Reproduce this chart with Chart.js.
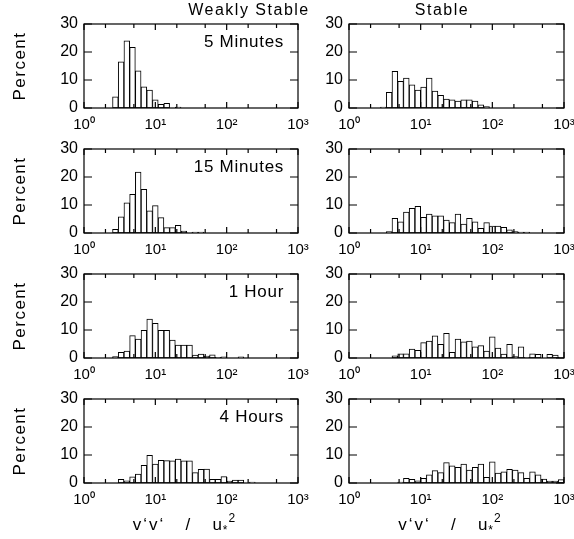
<!DOCTYPE html>
<html>
<head>
<meta charset="utf-8">
<script src="https://cdn.jsdelivr.net/npm/chart.js@4.4.1/dist/chart.umd.min.js"></script>
<style>
  html, body { margin: 0; padding: 0; background: #fff; overflow: hidden; width: 574px; height: 539px; }
  canvas { position: absolute; }
</style>
</head>
<body>
<script>
const FONT = "'Liberation Sans', Arial, sans-serif";

// histogram bin centres, as log10(v'v'/u*^2)
const leftBinLog = [0.04, 0.12, 0.20, 0.28, 0.36, 0.44, 0.52, 0.60, 0.68, 0.76, 0.84, 0.92,
  1.00, 1.08, 1.16, 1.24, 1.32, 1.40, 1.48, 1.56, 1.64, 1.72, 1.80, 1.88, 1.96, 2.04,
  2.12, 2.20, 2.28, 2.36, 2.44, 2.52, 2.60, 2.68, 2.76, 2.84, 2.92];
const rightBinLog = [0.08, 0.16, 0.24, 0.32, 0.40, 0.48, 0.56, 0.64, 0.72, 0.80, 0.88, 0.96,
  1.04, 1.12, 1.20, 1.28, 1.36, 1.44, 1.52, 1.60, 1.68, 1.76, 1.84, 1.92, 2.00, 2.08,
  2.16, 2.24, 2.32, 2.40, 2.48, 2.56, 2.64, 2.72, 2.80, 2.88, 2.96];

const xTickValues = [1, 2, 5, 10, 20, 50, 100, 200, 500, 1000];
const xTickLabels = { 1: '10⁰', 10: '10¹', 100: '10²', 1000: '10³' };
const yTickStep = 10;

const rowLabels = ['5 Minutes', '15 Minutes', '1 Hour', '4 Hours'];
const columnTitles = ['Weakly Stable', 'Stable'];
const yTitle = 'Percent';
const xTitleParts = ['v‘v‘   /   u', '*', '2'];

// percent per bin, weakly stable column (leftBinLog)
const weakly5min  = [0, 0, 0, 0, 0, 4.0, 16.5, 24.0, 21.7, 13.3, 7.6, 6.4, 2.9, 1.3, 1.7, 0, 0.3];
const weakly15min = [0, 0, 0, 0, 0, 1.3, 5.8, 10.8, 13.8, 21.8, 15.6, 7.9, 9.8, 5.5, 1.9, 1.9, 2.7,
  0.7, 0.1, 0.3, 0.3];
const weakly1h    = [0, 0, 0, 0, 0, 0.5, 2.0, 2.5, 8.0, 6.8, 9.9, 13.9, 12.4, 9.9, 9.9, 6.4, 4.6,
  4.6, 4.6, 1.0, 1.4, 0.7, 1.1, 0.2, 0.4, 0, 0, 0.4];
const weakly4h    = [0, 0, 0, 0, 0, 0, 1.3, 0.8, 2.2, 3.2, 6.3, 9.9, 6.8, 8.1, 8.0, 7.9, 8.5, 7.9,
  7.9, 3.7, 4.9, 5.0, 1.3, 1.3, 2.3, 0.7, 1.0, 1.0, 0, 0.3];

// percent per bin, stable column (rightBinLog)
const stable5min  = [0, 0, 0, 0, 0, 0.3, 5.6, 13.1, 9.5, 10.7, 8.3, 6.4, 7.5, 10.7, 6.0, 4.5, 3.2,
  2.9, 2.5, 2.9, 2.9, 2.5, 1.1, 0.5];
const stable15min = [0, 0, 0, 0, 0, 0, 0.5, 5.2, 4.0, 7.5, 8.8, 9.5, 5.6, 6.8, 6.1, 6.1, 4.6, 3.7,
  6.8, 3.2, 5.2, 4.0, 1.7, 3.7, 2.5, 2.5, 2.0, 1.1, 0.5, 0.3, 0.3];
const stable1h    = [0, 0, 0, 0, 0, 0, 0, 0.8, 1.5, 1.5, 3.2, 2.7, 5.5, 6.0, 7.9, 4.9, 8.8, 2.0,
  6.8, 5.8, 6.0, 4.0, 4.4, 2.5, 7.6, 3.5, 1.4, 4.9, 0.5, 4.0, 0.2, 1.5, 1.3, 0, 1.3, 1.0, 0.2];
const stable4h    = [0, 0, 0, 0, 0, 0, 0, 0, 0.3, 1.7, 1.3, 0.8, 1.7, 2.9, 4.4, 3.7, 7.3, 6.1, 5.6,
  6.8, 4.6, 5.6, 6.8, 2.0, 7.6, 3.5, 4.0, 4.9, 4.6, 3.7, 1.7, 4.0, 2.9, 1.4, 0.7, 0.7, 1.2];

const panels = [
  [weakly5min, stable5min],
  [weakly15min, stable15min],
  [weakly1h, stable1h],
  [weakly4h, stable4h]
];

// box with inward tick marks on all four sides
const framePlugin = {
  id: 'frame',
  afterDatasetsDraw(chart) {
    const { ctx, chartArea: a, scales: { x, y } } = chart;
    ctx.save();
    ctx.strokeStyle = '#000';
    ctx.lineWidth = 1.2;
    ctx.strokeRect(a.left, a.top, a.right - a.left, a.bottom - a.top);
    ctx.beginPath();
    x.ticks.forEach(t => {
      const px = x.getPixelForValue(t.value);
      const len = xTickLabels[t.value] ? 6 : 4;
      ctx.moveTo(px, a.bottom); ctx.lineTo(px, a.bottom - len);
      ctx.moveTo(px, a.top); ctx.lineTo(px, a.top + len);
    });
    y.ticks.forEach(t => {
      const py = y.getPixelForValue(t.value);
      ctx.moveTo(a.left, py); ctx.lineTo(a.left + 8, py);
      ctx.moveTo(a.right, py); ctx.lineTo(a.right - 8, py);
    });
    ctx.stroke();
    ctx.restore();
  }
};

// panel labels, column titles, axis titles
const textPlugin = {
  id: 'texts',
  afterDraw(chart, args, opts) {
    const { ctx, chartArea: a } = chart;
    ctx.save();
    ctx.fillStyle = '#000';
    ctx.textBaseline = 'alphabetic';
    if (opts.label) {
      ctx.font = '17px ' + FONT;
      ctx.letterSpacing = '0.7px';
      ctx.textAlign = 'right';
      ctx.fillText(opts.label, a.right - 14, a.top + 23);
    }
    if (opts.title) {
      ctx.font = '16px ' + FONT;
      ctx.letterSpacing = '1.5px';
      ctx.textAlign = 'center';
      ctx.fillText(opts.title, opts.titleX, a.top - 9);
    }
    if (opts.xTitle) {
      // v'v' / u*^2 with a lowered small asterisk and raised 2
      const base = a.bottom + 47;
      ctx.textAlign = 'left';
      ctx.letterSpacing = '2px';
      ctx.font = '17px ' + FONT;
      const w0 = ctx.measureText(opts.xTitle[0]).width;
      ctx.font = '12px ' + FONT;
      const w1 = ctx.measureText(opts.xTitle[1]).width;
      const w2 = ctx.measureText(opts.xTitle[2]).width;
      let x0 = (a.left + a.right) / 2 - 5 - (w0 + w1 + w2) / 2;
      ctx.font = '17px ' + FONT;
      ctx.fillText(opts.xTitle[0], x0, base);
      x0 += w0 - 1;
      ctx.font = '12px ' + FONT;
      ctx.fillText(opts.xTitle[1], x0, base + 4);
      x0 += w1 - 1;
      ctx.fillText(opts.xTitle[2], x0, base - 8);
    }
    if (opts.yTitle) {
      ctx.font = '17px ' + FONT;
      ctx.letterSpacing = '1.5px';
      ctx.translate(25, (a.top + a.bottom) / 2);
      ctx.rotate(-Math.PI / 2);
      ctx.textAlign = 'center';
      ctx.fillText(opts.yTitle, 0, 0);
    }
    ctx.restore();
  }
};

function makeChart(row, col) {
  const values = panels[row][col];
  const bins = col === 0 ? leftBinLog : rightBinLog;
  const canvas = document.createElement('canvas');
  const left = col === 0 ? 0 : 305;
  const width = col === 0 ? 320 : 285;
  const top = row * 125;
  const height = row === 3 ? 164 : 140;
  canvas.width = width;
  canvas.height = height;
  canvas.style.left = left + 'px';
  canvas.style.top = top + 'px';
  document.body.appendChild(canvas);

  const yAxisWidth = col === 0 ? 84 : 44;
  const rightPad = col === 0 ? 22 : 26;
  const xAxisHeight = height - 24 - 84;

  new Chart(canvas, {
    type: 'bar',
    data: {
      datasets: [{
        data: values.map((v, i) => ({ x: Math.pow(10, bins[i]), y: v })),
        backgroundColor: '#fff',
        borderColor: '#000',
        borderWidth: 1,
        borderSkipped: false,
        barPercentage: 1,
        categoryPercentage: 1
      }]
    },
    options: {
      responsive: false,
      animation: false,
      devicePixelRatio: 1,
      layout: { padding: { top: 24, right: rightPad, bottom: 0, left: 0 } },
      plugins: {
        legend: { display: false },
        tooltip: { enabled: false },
        texts: {
          label: col === 0 ? rowLabels[row] : null,
          title: row === 0 ? columnTitles[col] : null,
          titleX: col === 0 ? 249 : 137,
          xTitle: row === 3 ? xTitleParts : null,
          yTitle: col === 0 ? yTitle : null
        }
      },
      scales: {
        x: {
          type: 'logarithmic',
          min: 1,
          max: 1000,
          offset: false,
          grid: { display: false, drawTicks: false },
          border: { display: false },
          afterBuildTicks: scale => { scale.ticks = xTickValues.map(v => ({ value: v })); },
          afterFit: scale => { scale.height = xAxisHeight; },
          ticks: {
            autoSkip: false,
            maxRotation: 0,
            padding: 8,
            color: '#000',
            font: { family: FONT, size: 15 },
            callback: v => xTickLabels[v] || ''
          }
        },
        y: {
          min: 0,
          max: 30,
          grid: { display: false, drawTicks: false },
          border: { display: false },
          afterFit: scale => { scale.width = yAxisWidth; },
          ticks: {
            stepSize: yTickStep,
            padding: 6,
            color: '#000',
            font: { family: FONT, size: 16 }
          }
        }
      }
    },
    plugins: [framePlugin, textPlugin]
  });
}

for (let r = 0; r < 4; r++) {
  for (let c = 0; c < 2; c++) makeChart(r, c);
}
</script>
</body>
</html>
